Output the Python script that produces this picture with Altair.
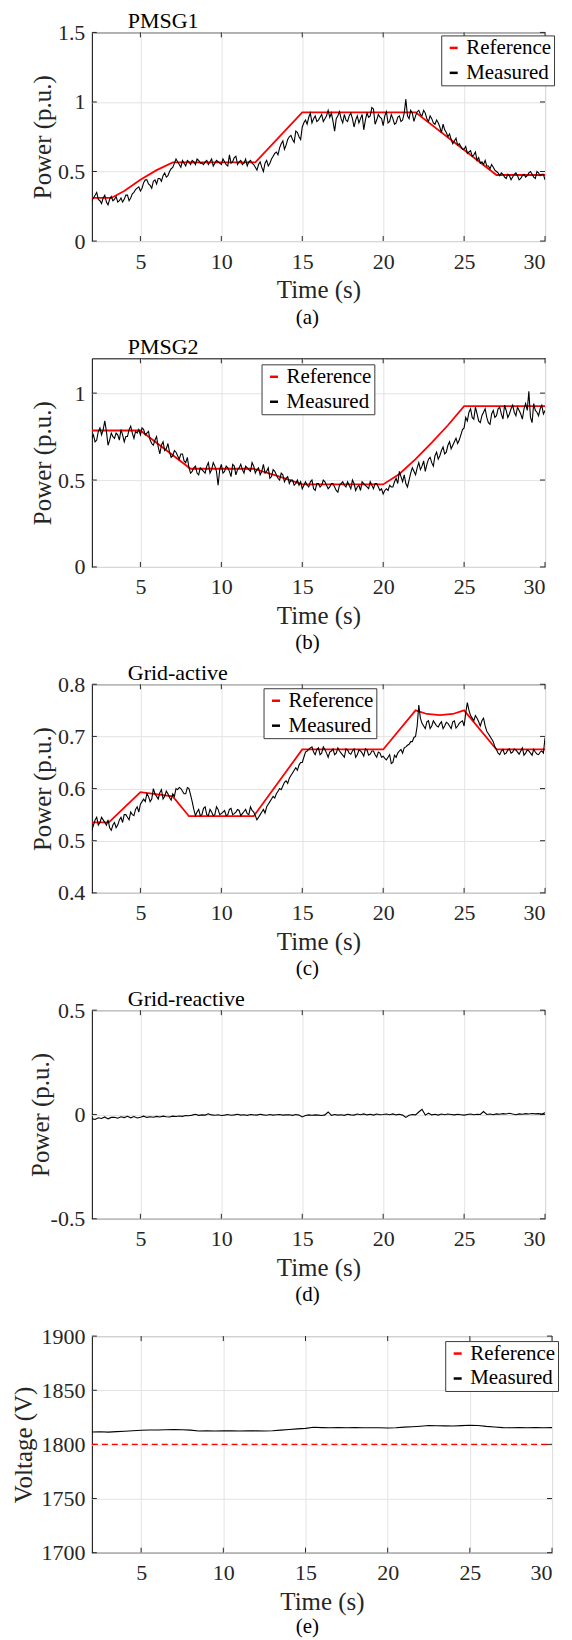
import altair as alt
import pandas as pd

FONT = "Liberation Serif"

# ---------------- data ----------------
T_START = 2.0
STEP_FAST = 0.1   # sampling of the noisy measured traces (s)
STEP_D = 0.2      # sampling of the reactive-power trace (s)
STEP_SLOW = 0.5   # sampling of the DC-voltage trace (s)

# (a) PMSG1 -- reference and measured samples (even / odd 0.1 s samples)
ref_a_t = [2.0, 3.2, 4.0, 5.0, 6.0, 7.0, 12.1, 15.0, 22.0, 27.0, 30.0]
ref_a = [0.31, 0.31, 0.36, 0.44, 0.51, 0.565, 0.565, 0.925, 0.925, 0.475, 0.475]
meas_a_even = [
    0.29, 0.33, 0.30, 0.27, 0.33, 0.26, 0.32,
    0.30, 0.28, 0.31, 0.30, 0.33, 0.31, 0.35, 0.38, 0.36, 0.42, 0.44, 0.40, 0.43, 0.41, 0.45, 0.47, 0.46, 0.50, 0.53,
    0.59, 0.55, 0.58, 0.54, 0.57, 0.58, 0.55, 0.58, 0.56, 0.57, 0.55, 0.59, 0.56, 0.57, 0.55, 0.57, 0.54, 0.56, 0.60, 0.55, 0.58, 0.56, 0.54, 0.58, 0.55,
    0.51, 0.57, 0.50, 0.58, 0.56, 0.61, 0.64, 0.67, 0.72, 0.69, 0.75, 0.73, 0.79, 0.75, 0.82,
    0.87, 0.89, 0.85, 0.90, 0.87, 0.91, 0.88, 0.94, 0.92, 0.79, 0.90, 0.88, 0.91, 0.86, 0.92, 0.82, 0.90, 0.88, 0.80, 0.92,
    0.90, 0.95, 0.87, 0.89, 0.83, 0.93, 0.86, 0.88, 0.85, 0.90, 0.87, 1.02, 0.88, 0.92, 0.90,
    0.94, 0.90, 0.92, 0.86, 0.88, 0.84, 0.85, 0.78, 0.80, 0.75, 0.73, 0.72, 0.69, 0.68, 0.66, 0.63, 0.65, 0.62, 0.58, 0.56,
    0.55, 0.54, 0.52, 0.53, 0.50,
    0.47, 0.48, 0.45, 0.47, 0.46, 0.49, 0.44, 0.47, 0.46, 0.49, 0.48, 0.45, 0.49, 0.48, 0.44,
]
meas_a_odd = [
    0.31, 0.35, 0.29, 0.31, 0.28, 0.30, 0.29,
    0.32, 0.29, 0.28, 0.33, 0.29, 0.34, 0.37, 0.39, 0.38, 0.44, 0.41, 0.38, 0.44, 0.45, 0.43, 0.49, 0.47, 0.52, 0.56,
    0.57, 0.53, 0.56, 0.58, 0.55, 0.57, 0.59, 0.56, 0.55, 0.58, 0.57, 0.54, 0.58, 0.56, 0.59, 0.55, 0.62, 0.57, 0.61, 0.57,
    0.55, 0.59, 0.57, 0.56, 0.53,
    0.55, 0.53, 0.56, 0.54, 0.59, 0.63, 0.62, 0.70, 0.66, 0.73, 0.76, 0.71, 0.78, 0.73, 0.85,
    0.84, 0.92, 0.88, 0.86, 0.89, 0.86, 0.90, 0.89, 0.86, 0.88, 0.93, 0.85, 0.87, 0.90, 0.88, 0.87, 0.85, 0.91, 0.87, 0.89,
    0.96, 0.84, 0.91, 0.88, 0.90, 0.85, 0.91, 0.84, 0.89, 0.86, 0.92, 0.90, 0.94, 0.86, 0.93,
    0.91, 0.94, 0.88, 0.90, 0.85, 0.87, 0.82, 0.84, 0.78, 0.77, 0.70, 0.74, 0.70, 0.66, 0.68, 0.64, 0.61, 0.64, 0.60, 0.57,
    0.58, 0.54, 0.55, 0.51, 0.49,
    0.49, 0.46, 0.48, 0.44, 0.48, 0.47, 0.45, 0.48, 0.47, 0.50, 0.46, 0.50, 0.47, 0.48,
]

# (b) PMSG2
ref_b_t = [2.0, 5.0, 8.1, 12.0, 13.5, 15.0, 20.0, 21.0, 22.0, 23.0, 24.0, 25.0, 30.0]
ref_b = [0.785, 0.785, 0.565, 0.565, 0.522, 0.475, 0.475, 0.535, 0.62, 0.715, 0.815, 0.925, 0.925]
meas_b_even = [
    0.74, 0.72, 0.78, 0.76, 0.84, 0.70, 0.77, 0.74, 0.76, 0.79, 0.72, 0.75, 0.81, 0.74, 0.77, 0.76,
    0.79, 0.77, 0.73, 0.70, 0.75, 0.65, 0.72, 0.68, 0.66, 0.64, 0.66, 0.62, 0.65, 0.60, 0.57,
    0.55, 0.58, 0.53, 0.56, 0.54, 0.60, 0.56, 0.58, 0.47, 0.59, 0.55, 0.57, 0.52, 0.58, 0.56, 0.59, 0.54, 0.57, 0.55, 0.58,
    0.56, 0.53, 0.59, 0.55, 0.51, 0.56, 0.53, 0.50, 0.53, 0.51, 0.48, 0.50, 0.48, 0.47, 0.45,
    0.49, 0.46, 0.50, 0.44, 0.48, 0.47, 0.49, 0.45, 0.48, 0.46, 0.43, 0.48, 0.47, 0.49, 0.45, 0.48, 0.46, 0.44, 0.48, 0.46,
    0.49, 0.45, 0.48, 0.44, 0.42,
    0.45, 0.47, 0.46, 0.51, 0.55, 0.49, 0.48, 0.50, 0.57, 0.53, 0.60, 0.58, 0.55, 0.62, 0.60, 0.64, 0.62, 0.67, 0.65, 0.70,
    0.68, 0.72, 0.71, 0.76, 0.80,
    0.84, 0.91, 0.85, 0.88, 0.83, 0.89, 0.86, 0.82, 0.90, 0.87, 0.92, 0.85, 0.90, 0.88, 0.93, 0.87, 0.90, 0.85, 0.94, 1.01,
    0.83, 0.90, 0.87, 0.93, 0.90,
]
meas_b_odd = [
    0.76, 0.73, 0.80, 0.79, 0.78, 0.73, 0.75, 0.77, 0.73, 0.76, 0.75, 0.79, 0.77, 0.78, 0.79, 0.80,
    0.76, 0.78, 0.71, 0.73, 0.69, 0.70, 0.67, 0.71, 0.63, 0.67, 0.64, 0.65, 0.61, 0.63, 0.54,
    0.57, 0.54, 0.57, 0.55, 0.58, 0.54, 0.60, 0.55, 0.56, 0.54, 0.58, 0.55, 0.59, 0.53, 0.57, 0.56, 0.58, 0.56, 0.60, 0.54,
    0.57, 0.55, 0.54, 0.57, 0.52, 0.55, 0.51, 0.54, 0.49, 0.52, 0.50, 0.47, 0.50, 0.49, 0.47,
    0.47, 0.49, 0.45, 0.48, 0.46, 0.50, 0.47, 0.46, 0.48, 0.44, 0.47, 0.49, 0.46, 0.47, 0.50, 0.44, 0.47, 0.49, 0.47, 0.45,
    0.47, 0.48, 0.46, 0.45, 0.44,
    0.44, 0.46, 0.49, 0.48, 0.52, 0.53, 0.46, 0.54, 0.55, 0.57, 0.56, 0.61, 0.59, 0.63, 0.58, 0.66, 0.64, 0.69, 0.66, 0.72,
    0.70, 0.74, 0.73, 0.79, 0.86,
    0.89, 0.86, 0.92, 0.84, 0.87, 0.91, 0.83, 0.88, 0.86, 0.91, 0.88, 0.93, 0.86, 0.91, 0.89, 0.92, 0.88, 0.91, 0.90, 0.86,
    0.94, 0.89, 0.91, 0.88,
]

# (c) Grid-active
ref_c_t = [2.0, 3.05, 5.0, 7.0, 8.0, 12.0, 15.0, 20.0, 22.0, 22.7, 23.5, 24.3, 25.0, 27.0, 30.0]
ref_c = [0.535, 0.535, 0.593, 0.585, 0.547, 0.547, 0.675, 0.675, 0.75, 0.743, 0.741, 0.743, 0.75, 0.675, 0.675]
meas_c_even = [
    0.52, 0.54, 0.53, 0.545, 0.535, 0.54,
    0.52, 0.535, 0.53, 0.545, 0.55, 0.545, 0.555, 0.548, 0.565, 0.57,
    0.58, 0.59, 0.575, 0.60, 0.585, 0.592, 0.58, 0.595, 0.583, 0.59, 0.60, 0.602, 0.595,
    0.59, 0.60, 0.575,
    0.548, 0.56, 0.55, 0.565, 0.548, 0.555, 0.55, 0.56, 0.552, 0.558, 0.55, 0.562, 0.552, 0.56, 0.548, 0.556, 0.552, 0.565, 0.555,
    0.54, 0.55, 0.56, 0.565, 0.575, 0.585, 0.59, 0.60, 0.605, 0.615, 0.62, 0.63, 0.64, 0.645, 0.65,
    0.67, 0.675, 0.68, 0.665, 0.678, 0.668, 0.675, 0.66, 0.672, 0.665, 0.678, 0.668, 0.66, 0.674, 0.666, 0.676, 0.665, 0.672,
    0.662, 0.674, 0.666, 0.672, 0.66, 0.668, 0.662,
    0.655, 0.665, 0.65, 0.66, 0.672, 0.668, 0.68, 0.685, 0.69, 0.70,
    0.76, 0.725, 0.715, 0.73, 0.72, 0.725, 0.718, 0.728, 0.72, 0.725, 0.715, 0.73, 0.72, 0.728, 0.72,
    0.765, 0.74, 0.73, 0.735, 0.72, 0.735, 0.71, 0.70, 0.69, 0.675,
    0.665, 0.675, 0.668, 0.676, 0.67, 0.674, 0.666, 0.678, 0.668, 0.672, 0.664, 0.67, 0.665, 0.672, 0.698,
]
meas_c_odd = [
    0.53, 0.545, 0.535, 0.54, 0.53, 0.525,
    0.53, 0.525, 0.54, 0.535, 0.55, 0.54, 0.55, 0.56, 0.555, 0.575,
    0.575, 0.585, 0.58, 0.59, 0.58, 0.598, 0.585, 0.59, 0.578, 0.585, 0.598, 0.60, 0.59,
    0.602, 0.588, 0.56,
    0.555, 0.548, 0.562, 0.55, 0.56, 0.548, 0.565, 0.55, 0.555, 0.548, 0.56, 0.55, 0.555, 0.558, 0.552, 0.56, 0.55, 0.558, 0.548,
    0.545, 0.555, 0.553, 0.57, 0.58, 0.582, 0.595, 0.598, 0.612, 0.61, 0.625, 0.635, 0.635, 0.65, 0.66,
    0.672, 0.678, 0.67, 0.675, 0.665, 0.68, 0.668, 0.67, 0.676, 0.668, 0.672, 0.664, 0.676, 0.668, 0.672, 0.66, 0.674,
    0.668, 0.676, 0.664, 0.672, 0.665, 0.67, 0.66, 0.658,
    0.66, 0.648, 0.664, 0.668, 0.675, 0.678, 0.683, 0.69, 0.698, 0.72,
    0.735, 0.72, 0.728, 0.715, 0.73, 0.72, 0.724, 0.715, 0.727, 0.72, 0.728, 0.716, 0.725, 0.73, 0.745,
    0.75, 0.735, 0.74, 0.728, 0.73, 0.72, 0.705, 0.695, 0.68, 0.668,
    0.672, 0.666, 0.674, 0.668, 0.676, 0.67, 0.672, 0.664, 0.674, 0.668, 0.675, 0.666, 0.67, 0.668,
]

# (d) Grid-reactive (measured only)
meas_d = [
    -0.020, -0.024, -0.016, -0.019, -0.012, -0.021, -0.014, -0.013, -0.018, -0.011, -0.015, -0.009, -0.016, -0.010,
    -0.017, -0.013, -0.008, -0.014, -0.011, -0.013, -0.009, -0.012, -0.008, -0.011, -0.012, -0.008, -0.010, -0.007,
    -0.009, -0.005, -0.006,
    -0.003, 0.001, -0.004, -0.002, -0.003, 0.003, -0.002, -0.004, -0.001, -0.005, -0.003, 0.000, -0.004, -0.002, 0.001,
    -0.003, -0.001, -0.004, 0.000, -0.002, -0.003, 0.001, -0.002, -0.004, 0.000, -0.003, -0.001, 0.000, -0.003, -0.002,
    -0.001, -0.004, 0.000, -0.003, -0.012, -0.005, -0.002, -0.004, -0.002, -0.003, -0.005, -0.002, 0.012, -0.004, 0.000,
    -0.003, -0.001, -0.004, 0.001, -0.002, -0.003, 0.002, -0.001, 0.003, -0.002, 0.001, -0.003, 0.002, -0.001, 0.000,
    0.002, -0.001, 0.003, -0.002, 0.001, -0.003, -0.014, -0.004, 0.000, -0.002, 0.012, 0.025, -0.003, 0.006, -0.002,
    0.001, -0.003, 0.002, -0.001, 0.002, 0.000, -0.002, 0.001, -0.001, -0.003, 0.000, 0.002, -0.001, 0.001, 0.000,
    0.014, 0.000, 0.002, -0.001, 0.003, 0.001, 0.004, 0.002, 0.006, 0.002, -0.001, 0.003, 0.001, 0.004, 0.002,
    0.005, 0.003, 0.004, 0.002, 0.008,
]

# (e) DC voltage
ref_e_t = [2.0, 30.0]
ref_e = [1800, 1800]
meas_e = [
    1811.5, 1811.6, 1811.3, 1811.8, 1812.2, 1812.6, 1813.1, 1813.3, 1813.3, 1813.5, 1813.6, 1813.5, 1813.2, 1812.3,
    1812.5, 1812.4, 1812.6, 1812.5, 1812.4, 1812.6, 1812.5, 1812.4, 1812.6, 1813.2, 1813.8, 1814.3, 1814.8, 1815.8,
    1815.5, 1815.3, 1815.5, 1815.4, 1815.6, 1815.4, 1815.3, 1815.3, 1815.2, 1815.4, 1815.9, 1816.3, 1816.8, 1817.4,
    1817.2, 1817.1, 1817.0, 1817.3, 1817.6, 1817.4, 1816.6, 1816.0, 1815.5, 1815.4, 1815.5, 1815.4, 1815.6, 1815.3,
    1815.5,
]

x_ticks = [5, 10, 15, 20, 25, 30]
series_names = ["Reference", "Measured"]

# ---------------- chart construction ----------------
W = 454
H = 209
TICK_LEN = 5
INK = "#262626"


def interleave(even, odd):
    out = []
    for i, v in enumerate(even):
        out.append(v)
        if i < len(odd):
            out.append(odd[i])
    return out


def sample_times(values, step):
    return [round(T_START + step * i, 3) for i in range(len(values))]


def text_layer(text, x, y, size, align, baseline):
    return alt.Chart(pd.DataFrame({"c": [text]})).mark_text(
        font=FONT, fontSize=size, baseline=baseline, align=align, color="black"
    ).encode(text="c:N", x=alt.value(x), y=alt.value(y))


def panel(meas, step, ydomain, yticks, ytitle, caption, title=None,
          ref_t=None, ref_v=None, legend_xy=None, width=W, height=H,
          ytitle_x=-49, ref_dash=None, cap_dy=76):
    xenc = alt.X(
        "t:Q",
        scale=alt.Scale(domain=[2, 30], nice=False, zero=False),
        axis=alt.Axis(values=x_ticks, title="Time (s)", titleY=49,
                      titleBaseline="middle", labelPadding=10),
    )
    yenc = alt.Y(
        "v:Q",
        scale=alt.Scale(domain=ydomain, nice=False, zero=False),
        axis=alt.Axis(values=yticks, title=ytitle, labelExpr="datum.value + ''",
                      titleX=ytitle_x, titleBaseline="middle", labelPadding=7),
    )
    mdf = pd.DataFrame({"t": sample_times(meas, step), "v": meas,
                        "series": "Measured"})
    layers = []

    # MATLAB-style inward ticks on all four sides
    xt = pd.DataFrame({"t": x_ticks})
    yt = pd.DataFrame({"v": yticks})
    layers.append(alt.Chart(xt).mark_rule(color=INK, strokeWidth=1).encode(
        x=xenc, y=alt.value(height), y2=alt.value(height - TICK_LEN)))
    layers.append(alt.Chart(xt).mark_rule(color=INK, strokeWidth=1).encode(
        x=xenc, y=alt.value(0), y2=alt.value(TICK_LEN)))
    layers.append(alt.Chart(yt).mark_rule(color=INK, strokeWidth=1).encode(
        y=yenc, x=alt.value(0), x2=alt.value(TICK_LEN)))
    layers.append(alt.Chart(yt).mark_rule(color=INK, strokeWidth=1).encode(
        y=yenc, x=alt.value(width), x2=alt.value(width - TICK_LEN)))

    if ref_t is not None:
        legend = alt.Legend(
            orient="none", legendX=legend_xy[0], legendY=legend_xy[1],
            direction="vertical", title=None,
            labelFont=FONT, labelFontSize=21, labelColor="black",
            labelOffset=2, symbolType="stroke", symbolSize=64,
            symbolStrokeWidth=2.5, rowPadding=3, padding=2,
            strokeColor="#3a3a3a", fillColor="white",
        )
        color = alt.Color(
            "series:N",
            scale=alt.Scale(domain=series_names, range=["#ff0000", "#000000"]),
            legend=legend,
        )
        rdf = pd.DataFrame({"t": ref_t, "v": ref_v, "series": "Reference"})
        rmark = {"strokeWidth": 1.8, "clip": True}
        if ref_dash:
            rmark["strokeDash"] = ref_dash
            rmark["strokeWidth"] = 1.4
        ref_layer = alt.Chart(rdf).mark_line(**rmark).encode(
            x=xenc, y=yenc, color=color)
        meas_layer = alt.Chart(mdf).mark_line(strokeWidth=1.1, clip=True).encode(
            x=xenc, y=yenc, color=color)
        layers += [ref_layer, meas_layer]
    else:
        meas_layer = alt.Chart(mdf).mark_line(strokeWidth=1.1, clip=True).encode(
            x=xenc, y=yenc, color=alt.value("black"))
        layers.append(meas_layer)

    layers.append(text_layer(caption, 216, height + cap_dy, 21, "center", "middle"))
    if title:
        layers.append(text_layer(title, 36, -4, 22, "left", "alphabetic"))
    return alt.layer(*layers).properties(width=width, height=height)


meas_a = interleave(meas_a_even, meas_a_odd)
meas_b = interleave(meas_b_even, meas_b_odd)
meas_c = interleave(meas_c_even, meas_c_odd)

pa = panel(meas_a, STEP_FAST, [0, 1.5], [0, 0.5, 1, 1.5], "Power (p.u.)", "(a)",
           title="PMSG1", ref_t=ref_a_t, ref_v=ref_a, legend_xy=(350, 3), cap_dy=77)
pb = panel(meas_b, STEP_FAST, [0, 1.2], [0, 0.5, 1], "Power (p.u.)", "(b)",
           title="PMSG2", ref_t=ref_b_t, ref_v=ref_b, legend_xy=(170, 6))
pc = panel(meas_c, STEP_FAST, [0.4, 0.8], [0.4, 0.5, 0.6, 0.7, 0.8], "Power (p.u.)", "(c)",
           title="Grid-active", ref_t=ref_c_t, ref_v=ref_c, legend_xy=(172, 4))
pd_ = panel(meas_d, STEP_D, [-0.5, 0.5], [-0.5, 0, 0.5], "Power (p.u.)", "(d)",
            title="Grid-reactive", ytitle_x=-51)
pe = panel(meas_e, STEP_SLOW, [1700, 1900], [1700, 1750, 1800, 1850, 1900], "Voltage (V)", "(e)",
           ref_t=ref_e_t, ref_v=ref_e, legend_xy=(354, 5), width=461, height=217,
           ytitle_x=-68, ref_dash=[6, 4], cap_dy=74)

chart = alt.vconcat(pa, pb, pc, pd_, pe, spacing=117.5, bounds="flush").resolve_scale(
    color="independent"
).resolve_legend(color="independent").configure(
    font=FONT,
    padding={"left": 3, "top": 0, "right": 5, "bottom": 5},
).configure_view(
    stroke="black", strokeWidth=1
).configure_axis(
    labelFont=FONT, labelFontSize=22, labelColor=INK,
    titleFont=FONT, titleFontSize=25, titleFontWeight="normal", titleColor=INK,
    grid=True, gridColor="#e3e3e3", gridWidth=1,
    domain=False, ticks=False, tickSize=0,
)

chart.save("out.html", embed_options={"renderer": "svg", "actions": False})
